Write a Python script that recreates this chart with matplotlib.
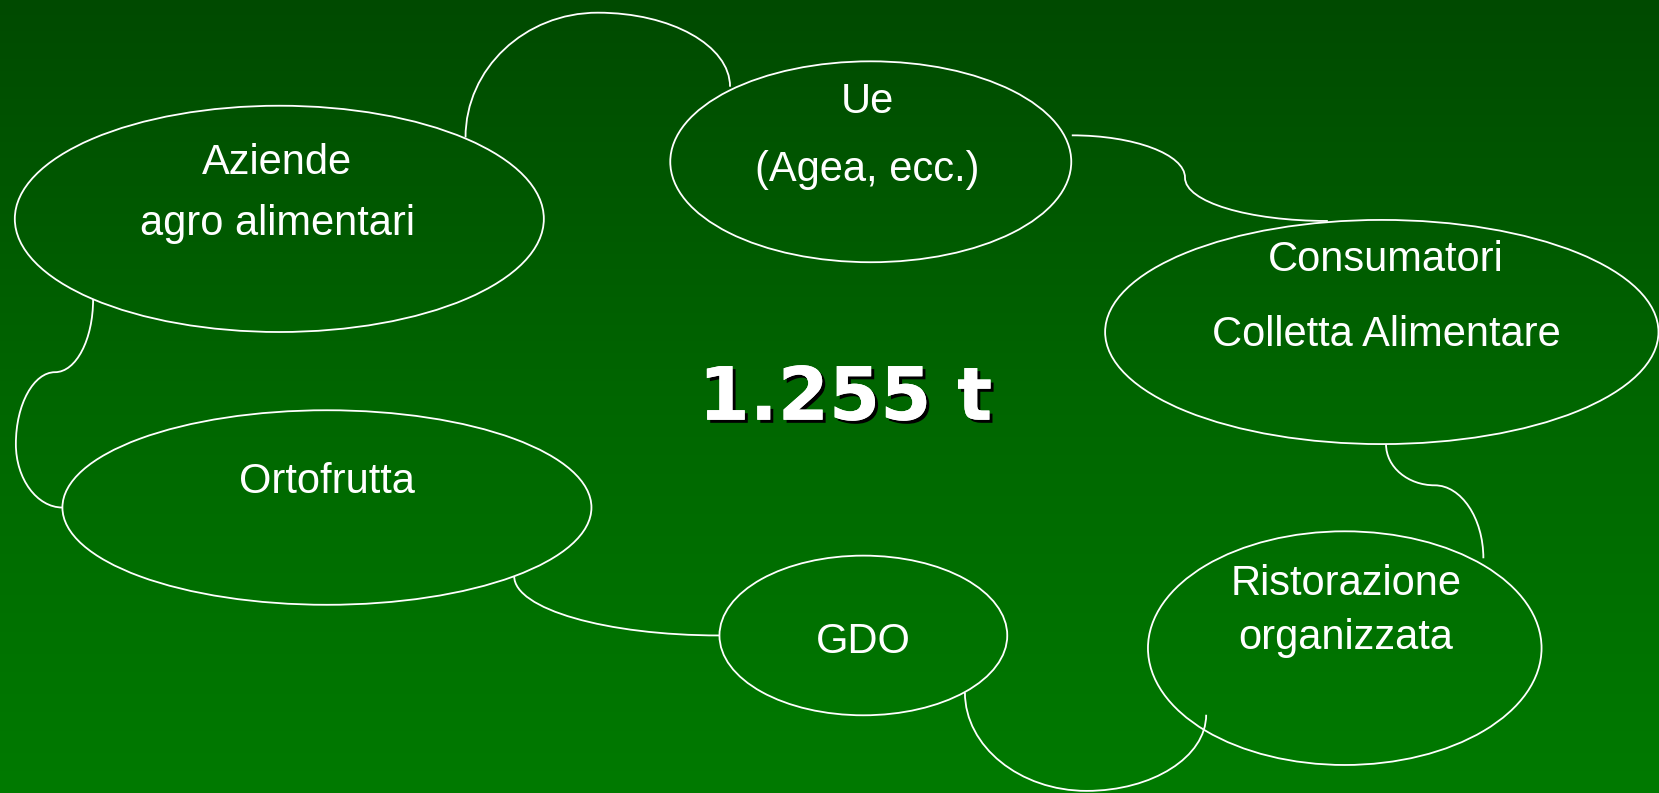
import numpy as np
import matplotlib
matplotlib.use("Agg")
import matplotlib.pyplot as plt
from matplotlib.patches import Ellipse, PathPatch
from matplotlib.path import Path
from matplotlib.colors import LinearSegmentedColormap
import matplotlib.patheffects as pe

# ── Dati ────────────────────────────────────────────────────
NODE_LABELS = [
    ["Aziende", "agro alimentari"],
    ["Ue", "(Agea, ecc.)"],
    ["Consumatori", "Colletta Alimentare"],
    ["Ortofrutta"],
    ["GDO"],
    ["Ristorazione", "organizzata"],
]
TOTAL_LABEL = "1.255 t"

# ── Layout (unità "schermo" 1568x750, origine in alto a sinistra) ──
W, H = 1568, 750
ELLIPSES = [  # cx, cy, w, h
    (264, 207, 500, 214),
    (823, 153, 379, 190),
    (1306, 314, 523, 212),
    (309, 480, 500, 184),
    (816, 601, 272, 151),
    (1271, 613, 372, 221),
]
TEXT_X = [262, 820, 1310, 309, 816, 1272]
TEXT_BASELINES = [
    [165, 222],
    [107, 171],
    [256, 327],
    [466],
    [618],
    [563, 614],
]

# connettori curvi: lista di segmenti cubici (p0, c1, c2, p1)
CONNECTORS = [
    [((440, 130), (440, 65), (496, 12), (565, 12)),
     ((565, 12), (634, 12), (690, 43), (690, 82))],
    [((1013, 128), (1072, 128), (1120, 146), (1120, 168)),
     ((1120, 168), (1120, 191), (1180, 209), (1255, 209))],
    [((1310, 420), (1310, 442), (1331, 459), (1356, 459)),
     ((1356, 459), (1381, 459), (1402, 490), (1402, 528))],
    [((1140, 676), (1140, 716), (1089, 748), (1027, 748)),
     ((1027, 748), (964, 748), (912, 706), (912, 655))],
    [((486, 545), (486, 576), (573, 601), (680, 601))],
    [((88, 283), (88, 321), (72, 352), (52, 352)),
     ((52, 352), (32, 352), (15, 382), (15, 420)),
     ((15, 420), (15, 453), (35, 480), (59, 480))],
]
# ────────────────────────────────────────────────────────────

fig = plt.figure(figsize=(16.59, 7.93), dpi=100)
ax = fig.add_axes([0, 0, 1, 1])
ax.set_xlim(0, W)
ax.set_ylim(H, 0)
ax.axis("off")

# sfondo sfumato verde
cmap = LinearSegmentedColormap.from_list("bg", ["#004a00", "#006600", "#007a00"])
grad = np.linspace(0, 1, 256).reshape(-1, 1)
ax.imshow(grad, cmap=cmap, extent=[0, W, H, 0], aspect="auto", zorder=0)

for (cx, cy, w, h) in ELLIPSES:
    ax.add_patch(Ellipse((cx, cy), w, h, facecolor="none",
                         edgecolor="white", lw=1.3, zorder=2))

for segs in CONNECTORS:
    verts = [segs[0][0]]
    codes = [Path.MOVETO]
    for (_, c1, c2, p1) in segs:
        verts += [c1, c2, p1]
        codes += [Path.CURVE4] * 3
    ax.add_patch(PathPatch(Path(verts, codes), facecolor="none",
                           edgecolor="white", lw=1.3, zorder=2))

for lines, x, ys in zip(NODE_LABELS, TEXT_X, TEXT_BASELINES):
    for line, y in zip(lines, ys):
        ax.text(x, y, line, ha="center", va="baseline", color="white",
                fontsize=30, family="Liberation Sans", zorder=3)

ax.text(799, 397, TOTAL_LABEL, ha="center", va="baseline", color="white",
        fontsize=53, family="DejaVu Sans", fontweight="bold", zorder=3,
        path_effects=[pe.withSimplePatchShadow(offset=(2.2, -2.2), shadow_rgbFace="black", alpha=1.0),
                      pe.Normal()])

fig.savefig("out.png", dpi=100)
